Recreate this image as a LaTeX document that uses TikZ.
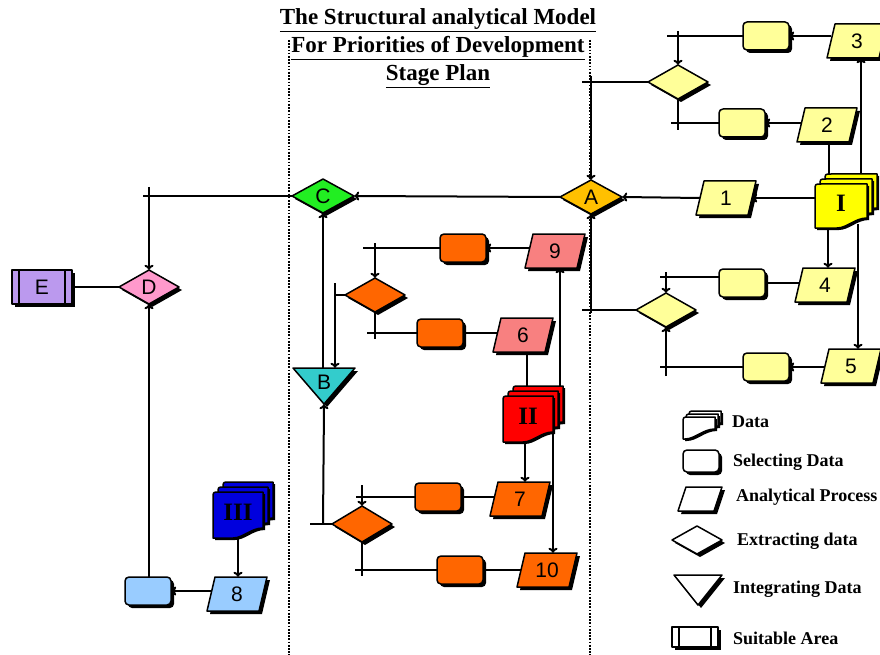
\documentclass[tikz,border=0pt]{standalone}
\usepackage{fontspec}
\setmainfont{Liberation Serif}
\newfontfamily\lsans{Liberation Sans}
\usetikzlibrary{arrows.meta,calc}
\pgfdeclarelayer{bg}
\pgfsetlayers{bg,main}

\definecolor{yel}{HTML}{FFFF99}
\definecolor{yelI}{HTML}{FFFF00}
\definecolor{gold}{HTML}{FFC000}
\definecolor{grn}{HTML}{22EE22}
\definecolor{pnk}{HTML}{FF99CC}
\definecolor{prp}{HTML}{BB99EE}
\definecolor{tealB}{HTML}{33CCCC}
\definecolor{org}{HTML}{FF6600}
\definecolor{salm}{HTML}{F88080}
\definecolor{redII}{HTML}{FF0000}
\definecolor{bluIII}{HTML}{0000DD}
\definecolor{lblu}{HTML}{99CCFF}

\tikzset{
 shp/.style={draw=black, line width=1.5pt, line join=round},
 shd/.style={fill=black},
 lbl/.style={font=\lsans\fontsize{21}{21}\selectfont, inner sep=0pt},
 dlbl/.style={font=\bfseries\fontsize{25}{25}\selectfont, inner sep=0pt},
 conn/.style={line width=2pt},
 arr/.style={conn, -{To[length=5pt,width=9pt]}},
 legtxt/.style={font=\bfseries\fontsize{18}{18}\selectfont, anchor=west, inner sep=0pt},
 dots/.style={line width=2.6pt, dash pattern=on 1.7pt off 1.5pt},
}

% name cx cy fill label hw hh
\newcommand\Para[7]{%
 \begin{scope}[shift={(#2,#3)}]
  \fill[shd,shift={(3,3)}] ({-#6},#7)--({#6-8},#7)--(#6,{-#7})--({-#6+8},{-#7})--cycle;
  \filldraw[shp,fill=#4] ({-#6},#7)--({#6-8},#7)--(#6,{-#7})--({-#6+8},{-#7})--cycle;
  \node[lbl,minimum width={2*#6-8},minimum height={2*#7}] (#1) at (0,0) {#5};
 \end{scope}}
\newcommand\RRect[7]{%
 \begin{scope}[shift={(#2,#3)}]
  \fill[shd,shift={(3,3)},rounded corners=4pt] ({-#6},{-#7}) rectangle (#6,#7);
  \filldraw[shp,fill=#4,rounded corners=4pt] ({-#6},{-#7}) rectangle (#6,#7);
  \node[lbl,minimum width={2*#6},minimum height={2*#7}] (#1) at (0,0) {#5};
 \end{scope}}
\newcommand\Diam[7]{%
 \begin{scope}[shift={(#2,#3)}]
  \fill[shd,shift={(3,3)}] ({-#6},0)--(0,{-#7})--(#6,0)--(0,#7)--cycle;
  \filldraw[shp,fill=#4] ({-#6},0)--(0,{-#7})--(#6,0)--(0,#7)--cycle;
  \node[lbl,minimum width={2*#6},minimum height={2*#7}] (#1) at (0,0) {#5};
 \end{scope}}
\newcommand\Tri[7]{%
 \begin{scope}[shift={(#2,#3)}]
  \fill[shd,shift={(3,3)}] ({-#6},{-#7})--(#6,{-#7})--(0,#7)--cycle;
  \filldraw[shp,fill=#4] ({-#6},{-#7})--(#6,{-#7})--(0,#7)--cycle;
  \node[lbl,minimum width={2*#6},minimum height={2*#7}] (#1) at (0,0) {\raisebox{7pt}{#5}};
 \end{scope}}
\newcommand\Suit[7]{%
 \begin{scope}[shift={(#2,#3)}]
  \fill[shd,shift={(3,3)}] ({-#6},{-#7}) rectangle (#6,#7);
  \filldraw[shp,fill=#4] ({-#6},{-#7}) rectangle (#6,#7);
  \draw[shp] ({-#6+7},{-#7}) -- ({-#6+7},#7) ({#6-7},{-#7}) -- ({#6-7},#7);
  \node[lbl,minimum width={2*#6},minimum height={2*#7}] (#1) at (0,0) {#5};
 \end{scope}}
% name cx cy fill label a b offset
\newcommand\Data[8]{%
 \begin{scope}[shift={(#2,#3)}]
  \foreach \k in {2,1,0} {
   \begin{scope}[shift={({\k*#8},{-\k*#8})}]
    \fill[shd,shift={(2,2)}] ({-#6},{-#7+6}) .. controls ({-#6},{-#7}) .. ({-#6+6},{-#7}) -- (#6,{-#7}) -- (#6,{#7-8}) .. controls ({#6-12},{#7-8}) and ({#6-20},{#7+2}) .. ({#6-30},{#7+2}) -- ({-#6},{#7+2}) -- cycle;
    \filldraw[shp,fill=#4] ({-#6},{-#7+6}) .. controls ({-#6},{-#7}) .. ({-#6+6},{-#7}) -- (#6,{-#7}) -- (#6,{#7-8}) .. controls ({#6-12},{#7-8}) and ({#6-20},{#7+2}) .. ({#6-30},{#7+2}) -- ({-#6},{#7+2}) -- cycle;
   \end{scope}}
  \node[dlbl,minimum width={2*#6},minimum height={2*#7}] (#1) at (0,-2) {#5};
 \end{scope}}

\begin{document}
\begin{tikzpicture}[x=1pt,y=-1pt]
\useasboundingbox (0,0) rectangle (880,655);
\clip (0,0) rectangle (880,655);

% title
\node[font=\bfseries\fontsize{23}{28}\selectfont, align=center, inner sep=0pt] (title) at (438,48)
 {\underline{The Structural analytical Model}\\\underline{For Priorities of Development}\\\underline{Stage Plan}};

% yellow top group
\Para{p3}{857}{41}{yel}{3}{30}{17}
\RRect{r3}{766}{36}{yel}{}{23}{14}
\Diam{dY1}{678}{82}{yel}{}{30}{17}
\RRect{r2}{742}{123}{yel}{}{23}{14}
\Para{p2}{827}{125}{yel}{2}{30}{17}
\Data{dI}{841}{205}{yelI}{I}{26}{21}{5}
\Para{p1}{726}{198}{yel}{1}{30}{17}
\Diam{A}{591}{197}{gold}{A}{31}{17}
\Diam{C}{323}{196}{grn}{C}{31}{17}
\Diam{D}{149}{287}{pnk}{D}{30}{17}
\Suit{E}{42}{287}{prp}{E}{30}{17}
\RRect{r8}{148}{591}{lblu}{}{23}{14}
\Para{p8}{237}{594}{lblu}{8}{30}{17}
\Data{dIII}{238}{514}{bluIII}{III}{25}{22}{5}
% middle
\Tri{B}{324}{386}{tealB}{B}{31}{18}
\Diam{dO1}{375}{295}{org}{}{30}{17}
\RRect{r9}{463}{248}{org}{}{23}{14}
\Para{p9}{555}{251}{salm}{9}{30}{17}
\RRect{r6}{440}{333}{org}{}{23}{14}
\Para{p6}{523}{335}{salm}{6}{30}{17}
\Data{dII}{528}{418}{redII}{II}{25}{22}{5}
\Para{p7}{520}{499}{org}{7}{30}{17}
\RRect{r7}{438}{497}{org}{}{23}{14}
\Diam{dO2}{362}{524}{org}{}{30}{18}
\RRect{r10}{460}{570}{org}{}{23}{14}
\Para{p10}{547}{570}{org}{10}{30}{17}
% lower yellow group
\Para{p4}{825}{285}{yel}{4}{30}{17}
\RRect{r4}{742}{283}{yel}{}{23}{14}
\Diam{dY2}{666}{310}{yel}{}{30}{17}
\RRect{r5}{766}{367}{yel}{}{23}{14}
\Para{p5}{851}{366}{yel}{5}{30}{17}

% legend
\Data{legData}{699}{427}{white}{}{16}{10}{3}
\RRect{legSel}{701}{461}{white}{}{18}{11}
\Para{legAna}{700}{499}{white}{}{22}{12}
\Diam{legExt}{697}{540}{white}{}{25}{14}
\Tri{legInt}{698}{590}{white}{}{24}{15}
\Suit{legSuit}{695}{637}{white}{}{23}{10}
\node[legtxt] (t1) at (732,422) {Data};
\node[legtxt] (t2) at (733,462) {Selecting Data};
\node[legtxt] (t3) at (736,497) {Analytical Process};
\node[legtxt] (t4) at (737,541) {Extracting data};
\node[legtxt] (t5) at (733,589) {Integrating Data};
\node[legtxt] (t6) at (733,638) {Suitable Area};

\begin{pgfonlayer}{bg}
 \draw[dots] (289,40) -- (289,655);
 \draw[dots] (590,40) -- (590,655);
 % top yellow
 \draw[arr] (p3.west |- r3) -- (r3.east);
 \draw[conn] (r3.west) -- (r3.west -| 667,0);
 \draw[arr] (dY1.north |- 0,31) -- (dY1.north);
 \draw[conn] (dY1.west) -- (dY1.west -| 582,0);
 \draw[arr] (A.north |- 0,76) -- (A.north);
 \draw[conn] (dY1.south) -- (dY1.south |- 0,130);
 \draw[conn] (r2.west) -- (r2.west -| 671,0);
 \draw[arr] (p2.west |- r2) -- (r2.east);
 \draw[conn] (p2.south -| 829,0) -- (dI.north -| 829,0);
 \draw[arr] (dI.north -| 861,0) -- (p3.south -| 861,0);
 \draw[arr] (dI.west |- p1) -- (p1.east);
 \draw[arr] (p1.west) -- (A.east);
 \draw[arr] (A.west) -- (C.east);
 \draw[conn] (C.west) -- (C.west -| 143,0);
 \draw[arr] (D.north |- 0,187) -- (D.north);
 \draw[conn] (D.west) -- (E.east);
 \draw[arr] (r8.north -| D.south) -- (D.south);
 \draw[arr] (p8.west |- r8) -- (r8.east);
 \draw[arr] (dIII) -- (dIII |- p8.north);
 % middle
 \draw[arr] (B.north -| C) -- (C.south);
 \draw[conn] (dO1.west) -- (dO1.west -| 335,0);
 \draw[arr] (dO1.west -| 335,0) ++(0,-12) -- (B.north -| 335,0);
 \draw[arr] (dO1.north |- 0,243) -- (dO1.north);
 \draw[conn] (r9.west) -- (r9.west -| 363,0);
 \draw[arr] (p9.west |- r9) -- (r9.east);
 \draw[conn] (dO1.south) -- (dO1.south |- 0,339);
 \draw[conn] (r6.west) -- (r6.west -| 367,0);
 \draw[conn] (p6.west |- r6) -- (r6.east);
 \draw[conn] (p6.south -| 527,0) -- (dII.north -| 527,0);
 \draw[arr] (dII.north -| 560,0) -- (p9.south -| 560,0);
 \draw[arr] (dII.south -| 525,0) -- (p7.north -| 525,0);
 \draw[arr] (dII -| 553,0) -- (p10.north -| 553,0);
 \draw[conn] (p7.west |- r7) -- (r7.east);
 \draw[conn] (r7.west) -- (r7.west -| 356,0);
 \draw[arr] (dO2.north |- 0,485) -- (dO2.north);
 \draw[conn] (dO2.south) -- (dO2.south |- 0,576);
 \draw[conn] (r10.west) -- (r10.west -| 355,0);
 \draw[conn] (p10.west |- r10) -- (r10.east);
 \draw[conn] (dO2.west) -- (dO2.west -| 310,0);
 \draw[arr] (dO2.west -| 323,0) -- (B.south);
 % lower yellow
 \draw[arr] (dI.south -| 828,0) -- (p4.north -| 828,0);
 \draw[arr] (dI.south -| 858,0) -- (p5.north -| 858,0);
 \draw[conn] (p4.west |- r4) -- (r4.east);
 \draw[conn] (r4.west |- 0,277) -- (660,277);
 \draw[arr] (dY2.north |- 0,272) -- (dY2.north);
 \draw[conn] (dY2.west) -- (dY2.west -| 582,0);
 \draw[arr] (A.south |- 0,313) -- (A.south);
 \draw[arr] (dY2.south |- 0,376) -- (dY2.south);
 \draw[conn] (r5.west) -- (r5.west -| 660,0);
 \draw[arr] (p5.west |- r5) -- (r5.east);
\end{pgfonlayer}
\end{tikzpicture}
\end{document}
